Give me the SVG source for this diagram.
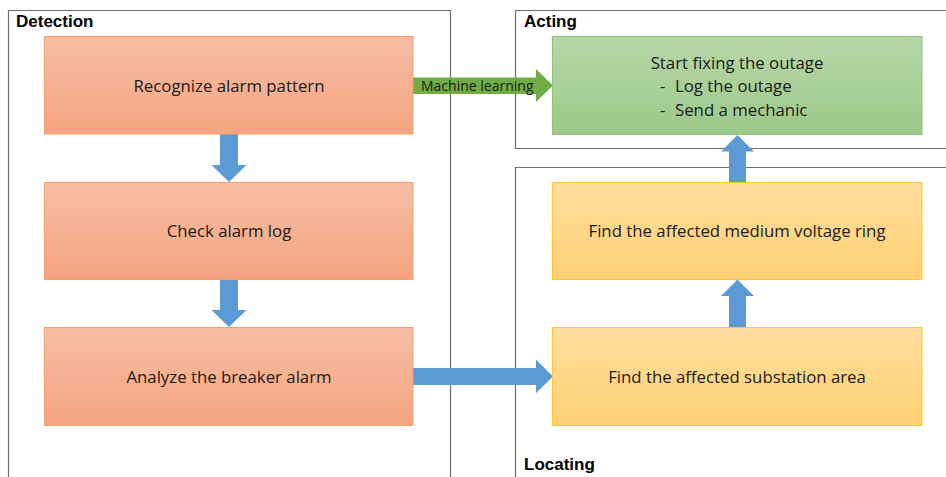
<svg xmlns="http://www.w3.org/2000/svg" width="946" height="477" viewBox="0 0 946 477">
  <defs>
    <linearGradient id="gOrange" x1="0" y1="0" x2="0" y2="1">
      <stop offset="0" stop-color="#F6BEA5"/>
      <stop offset="1" stop-color="#F5A47F"/>
    </linearGradient>
    <linearGradient id="gGreen" x1="0" y1="0" x2="0" y2="1">
      <stop offset="0" stop-color="#B7D7A8"/>
      <stop offset="1" stop-color="#9CC989"/>
    </linearGradient>
    <linearGradient id="gYellow" x1="0" y1="0" x2="0" y2="1">
      <stop offset="0" stop-color="#FFDD9E"/>
      <stop offset="1" stop-color="#FFD173"/>
    </linearGradient>
    <style>
      .lane { fill: none; stroke: #6E6E6E; stroke-width: 1.2; }
      .lane-title { font-family: "Liberation Sans", Arial, sans-serif; font-weight: bold; font-size: 17px; fill: #000; }
      .orange { fill: url(#gOrange); stroke: #F4A06C; stroke-width: 1; }
      .green { fill: url(#gGreen); stroke: #8EC479; stroke-width: 1; }
      .yellow { fill: url(#gYellow); stroke: #FFC533; stroke-width: 1; }
      .label { font-family: "Open Sans", "Liberation Sans", sans-serif; font-size: 16.8px; fill: #1A1A1A; text-anchor: middle; }
      .item { font-family: "Open Sans", "Liberation Sans", sans-serif; font-size: 16.8px; fill: #1A1A1A; }
      .blue { fill: #5B9BD5; }
      .ml { fill: #70AD47; }
      .ml-text { font-family: "Open Sans", "Liberation Sans", sans-serif; font-size: 14px; fill: #1A1A1A; }
    </style>
  </defs>

  <rect width="946" height="477" fill="#FFFFFF"/>

  <!-- swimlanes -->
  <g id="lane-detection">
    <path class="lane" d="M8.5,480 V10.5 H450.5 V480"/>
    <text class="lane-title" x="16" y="27">Detection</text>
  </g>
  <g id="lane-acting">
    <path class="lane" d="M950,10.5 H515.5 V148.5 H950"/>
    <text class="lane-title" x="524" y="27">Acting</text>
  </g>
  <g id="lane-locating">
    <path class="lane" d="M950,167.5 H515.5 V480"/>
    <text class="lane-title" x="524" y="470">Locating</text>
  </g>

  <!-- connectors -->
  <g id="connectors">
    <!-- Recognize -> Check -->
    <polygon class="blue" points="220,134 238,134 238,165 246.5,165 229,182 211.5,165 220,165"/>
    <!-- Check -> Analyze -->
    <polygon class="blue" points="220,279 238,279 238,310 246.5,310 229,327 211.5,310 220,310"/>
    <!-- Analyze -> substation area -->
    <polygon class="blue" points="413,368 536,368 536,359.5 553,376.5 536,393 536,385 413,385"/>
    <!-- substation area -> medium voltage ring -->
    <polygon class="blue" points="729,327 746,327 746,296 754,296 737.5,279.5 721,296 729,296"/>
    <!-- medium voltage ring -> fixing -->
    <polygon class="blue" points="729,182.5 746,182.5 746,151.5 754,151.5 737.5,135 721,151.5 729,151.5"/>
    <!-- Recognize -> fixing (machine learning) -->
    <polygon class="ml" points="413,77.5 536,77.5 536,69 553,85.5 536,102 536,94 413,94"/>
    <text class="ml-text" x="421" y="90.5">Machine learning</text>
  </g>

  <!-- detection steps -->
  <g id="recognize">
    <rect class="orange" x="44.5" y="36.5" width="368.5" height="97.5"/>
    <text class="label" x="229" y="92">Recognize alarm pattern</text>
  </g>
  <g id="check-log">
    <rect class="orange" x="44.5" y="182.5" width="368.5" height="97"/>
    <text class="label" x="229" y="237">Check alarm log</text>
  </g>
  <g id="analyze">
    <rect class="orange" x="44.5" y="327.5" width="368.5" height="98"/>
    <text class="label" x="229" y="382.5">Analyze the breaker alarm</text>
  </g>

  <!-- acting step -->
  <g id="fixing">
    <rect class="green" x="552.5" y="36.5" width="369.5" height="98"/>
    <text class="label" x="737" y="68.5">Start fixing the outage</text>
    <text class="item" x="660" y="92">-</text>
    <text class="item" x="675" y="92">Log the outage</text>
    <text class="item" x="660" y="115.5">-</text>
    <text class="item" x="675" y="115.5">Send a mechanic</text>
  </g>

  <!-- locating steps -->
  <g id="voltage-ring">
    <rect class="yellow" x="552.5" y="182.5" width="369.5" height="97"/>
    <text class="label" x="737" y="237">Find the affected medium voltage ring</text>
  </g>
  <g id="substation-area">
    <rect class="yellow" x="552.5" y="327.5" width="369.5" height="98"/>
    <text class="label" x="737" y="382.5">Find the affected substation area</text>
  </g>
</svg>
